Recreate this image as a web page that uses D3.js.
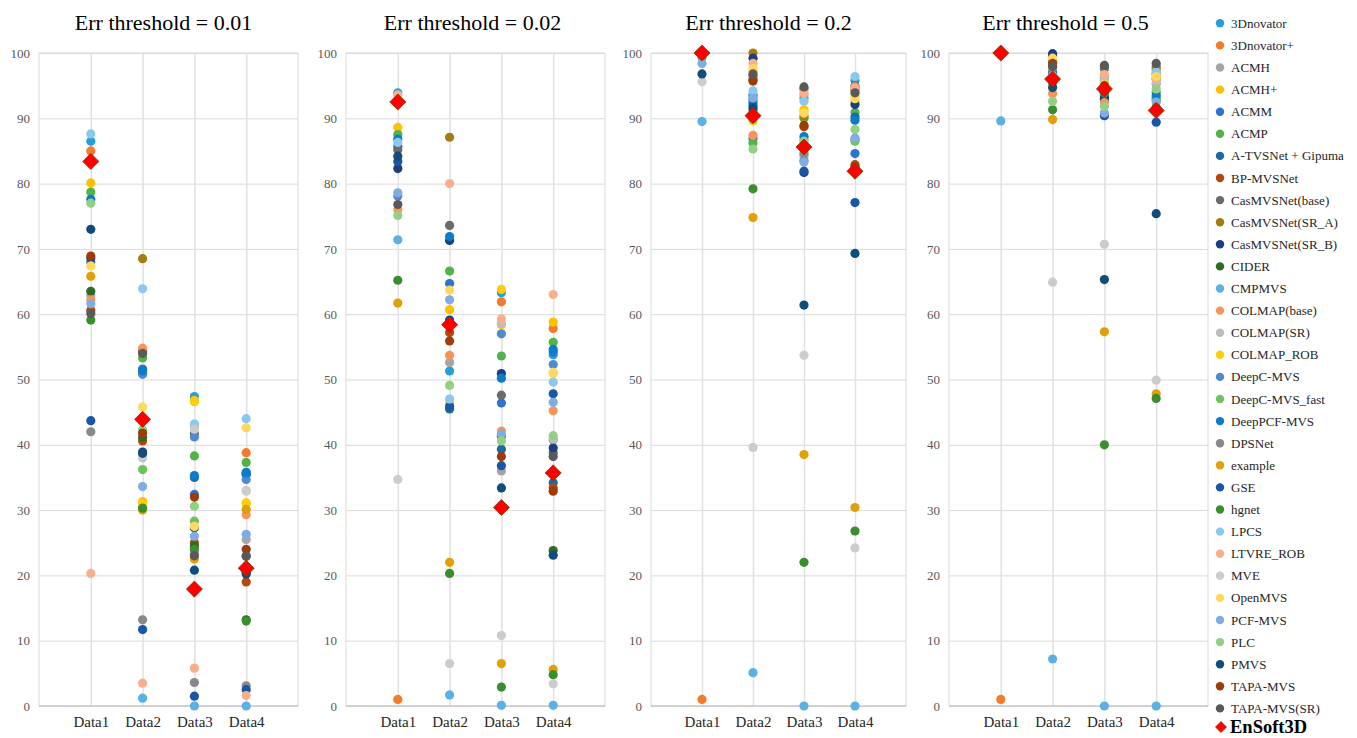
<!DOCTYPE html>
<html>
<head>
<meta charset="utf-8">
<script src="https://cdn.jsdelivr.net/npm/d3@7"></script>
<style>
  body { margin: 0; background: #fff; }
  svg { display: block; }
</style>
</head>
<body>
<svg id="chart" width="1357" height="738"></svg>
<script>
// ---- data ----------------------------------------------------------------
const categories = ["Data1", "Data2", "Data3", "Data4"];
const thresholds = ["0.01", "0.02", "0.2", "0.5"];
const yTicks = [0, 10, 20, 30, 40, 50, 60, 70, 80, 90, 100];

const methods = [
  "3Dnovator", "3Dnovator+", "ACMH", "ACMH+", "ACMM", "ACMP",
  "A-TVSNet + Gipuma", "BP-MVSNet", "CasMVSNet(base)", "CasMVSNet(SR_A)",
  "CasMVSNet(SR_B)", "CIDER", "CMPMVS", "COLMAP(base)", "COLMAP(SR)",
  "COLMAP_ROB", "DeepC-MVS", "DeepC-MVS_fast", "DeepPCF-MVS", "DPSNet",
  "example", "GSE", "hgnet", "LPCS", "LTVRE_ROB", "MVE", "OpenMVS",
  "PCF-MVS", "PLC", "PMVS", "TAPA-MVS", "TAPA-MVS(SR)"
];

const methodColors = [
  "#22a0da", "#f47a2c", "#a5a5a5", "#ffc000", "#2e73cf", "#52b34a",
  "#1f69a3", "#b4490e", "#6b6b6b", "#a57c10",
  "#1c3f80", "#2f6b23", "#5cb1e4", "#f5955a", "#bdbdbd",
  "#ffcc0a", "#5089d3", "#6ec35c", "#0b7cc9", "#898989",
  "#e1a008", "#1957a6", "#3b8e2e", "#8bc8ee", "#f8b08c", "#cccccc", "#ffd85e",
  "#7fade2", "#93d085", "#114d7b", "#9f3b0a", "#595959"
];

// one row per method (legend order), columns Data1..Data4
const err001 = [
  [86.5, 51.5, 47.4, 35.4], [85.0, 54.6, null, 38.8], [62.9, 30.6, 23.4, 25.5],
  [80.1, 31.3, 46.8, 31.1], [68.0, 51.6, 32.4, 35.8], [78.7, 53.3, 38.3, 37.3],
  [null, 51.0, 35.0, 35.5], [60.6, 40.6, 25.0, 19.0], [null, 54.3, 41.7, 22.9],
  [null, 68.5, null, null], [68.6, 38.9, 27.3, 20.4], [63.5, 41.1, 24.5, 13.2],
  [null, 1.2, 0, 0], [62.2, 54.8, null, 29.3], [null, 38.0, 42.8, 33.0],
  [null, 31.0, 46.6, 31.0], [null, 50.8, 41.2, 34.7], [null, 36.2, 28.3, null],
  [77.6, 51.3, 35.3, 35.7], [42.0, 13.2, 3.6, 3.1], [65.8, 30.0, 22.5, 30.1],
  [43.7, 11.7, 1.5, 2.5], [59.1, 30.3, 24.0, 13.0], [87.6, 63.9, 43.2, 44.0],
  [20.3, 3.5, 5.8, 1.6], [null, 38.3, 42.4, 32.9], [67.4, 45.8, 27.5, 42.6],
  [61.6, 33.6, 26.0, 26.3], [77.0, 42.3, 30.6, null], [73.0, 38.7, 20.8, 20.2],
  [68.9, 41.8, 32.0, 24.0], [60.1, 54.0, 23.0, 23.0]
];

const err002 = [
  [93.9, 51.3, 63.3, 53.8], [1.0, null, 61.9, 57.8], [null, 52.6, 36.0, 40.7],
  [88.6, 60.7, 58.4, 58.8], [null, 64.7, 46.4, 54.2], [87.5, 66.6, 53.6, 55.7],
  [85.7, 45.5, 39.3, 34.2], [null, 57.2, 41.3, 33.4], [85.2, 73.6, 47.6, 38.8],
  [null, 87.1, null, null], [82.3, 71.3, 50.9, 39.5], [null, null, null, 23.8],
  [71.4, 1.7, 0.1, 0.1], [76.0, 53.7, 42.1, 45.2], [null, null, 58.6, 40.9],
  [null, 46.5, 63.8, 51.0], [78.1, null, 57.0, 52.3], [null, null, null, null],
  [86.8, 71.9, 50.2, 54.6], [null, null, null, null], [61.7, 22.0, 6.5, 5.6],
  [83.4, 45.9, 36.8, 47.8], [65.2, 20.3, 2.9, 4.8], [86.3, 47.0, null, 49.6],
  [93.6, 80.0, 59.3, 63.0], [34.7, 6.5, 10.8, 3.4], [null, 63.7, null, 51.1],
  [78.6, 62.2, 41.6, 46.5], [75.1, 49.1, 40.6, 41.4], [84.2, 59.1, 33.4, 23.1],
  [null, 55.9, 38.2, 32.9], [76.8, null, null, 38.2]
];

const err02 = [
  [100, 93.6, 93.1, 95.8], [1.0, 90.5, 85.2, 82.0], [100, 91.0, 84.4, 94.2],
  [100, 97.2, 91.3, 92.5], [100, 86.9, 86.0, 84.6], [99.3, 86.2, 90.0, 90.9],
  [100, 92.8, 85.4, 90.2], [100, 95.9, 88.7, 82.9], [100, 96.5, 94.5, 95.0],
  [100, 100, 90.3, 94.5], [100, 99.2, 81.7, 92.1], [100, 90.2, 85.8, 82.2],
  [89.5, 5.1, 0, 0], [100, 87.4, 93.7, 94.8], [100, 91.2, 84.1, 94.0],
  [100, 89.6, 91.0, 93.4], [100, 93.4, 83.5, 86.8], [100, 89.9, 86.8, 86.5],
  [100, 92.4, 87.2, 89.7], [100, 96.0, 84.6, 82.1], [100, 74.8, 38.5, 30.4],
  [100, 91.9, 81.9, 77.1], [100, 79.2, 22.0, 26.8], [100, 94.2, 92.6, 96.4],
  [100, 98.4, 93.9, 94.6], [95.6, 39.6, 53.7, 24.2], [100, 97.6, 90.8, 93.0],
  [98.4, 93.1, 83.3, 87.0], [100, 85.3, 86.5, 88.3], [96.8, 91.5, 61.4, 69.3],
  [100, 95.7, 88.9, 82.6], [100, 96.8, 94.8, 93.9]
];

const err05 = [
  [100, 96.4, 94.8, 96.8], [1.0, 96.2, 94.3, 91.0], [100, 96.6, 97.9, 95.2],
  [100, 97.2, 94.6, 96.6], [100, 97.6, 93.5, 92.8], [100, 95.6, 93.8, 94.0],
  [100, 95.8, 92.9, 91.5], [100, 98.0, 95.4, 91.4], [100, 98.7, 97.6, 97.9],
  [100, 99.6, 96.2, 97.5], [100, 99.9, 93.1, 96.0], [100, 96.0, 94.0, 91.0],
  [89.6, 7.2, 0, 0], [100, 93.8, 92.4, 96.9], [100, 96.3, 95.0, 95.5],
  [100, 97.4, 95.8, 96.2], [100, 96.8, 94.2, 93.2], [100, 95.4, 93.9, 92.9],
  [100, 97.0, 94.0, 93.5], [100, 96.1, 95.1, 91.3], [100, 89.8, 57.3, 47.8],
  [100, 95.7, 90.4, 89.4], [100, 91.3, 40.0, 47.1], [100, 96.5, 96.0, 97.1],
  [100, 97.8, 96.7, 96.0], [100, 64.9, 70.7, 49.9], [100, 99.2, 95.2, 96.4],
  [100, 96.2, 90.8, 92.5], [100, 92.6, 91.8, 94.5], [100, 94.7, 65.3, 75.4],
  [100, 98.4, 95.0, 91.6], [100, 97.9, 98.1, 98.4]
];

// EnSoft3D, one row per threshold
const ensoft3d = [
  [83.4, 43.9, 17.9, 21.1],
  [92.5, 58.4, 30.4, 35.7],
  [100, 90.4, 85.6, 81.9],
  [100, 96.0, 94.5, 91.2]
];
const ensoftLabel = "EnSoft3D";

const panelValues = [err001, err002, err02, err05];

// ---- layout ---------------------------------------------------------------
const svg = d3.select("#chart");
const serif = "'Liberation Serif', 'Times New Roman', serif";
const plotTop = 53, plotBottom = 706;
const panelBounds = [[39, 298], [346, 605], [651, 906], [949, 1208]];
const titleShift = [-5, -3, -10, -13];
const gridColor = "#d9d9d9";

const y = d3.scaleLinear().domain([0, 100]).range([plotBottom, plotTop]);
const diamond = d3.symbol().type(d3.symbolDiamond2);

panelBounds.forEach(([x0, x1], p) => {
  const x = d3.scalePoint().domain(categories).range([x0, x1]).padding(1);
  const g = svg.append("g");

  // horizontal grid + y tick labels
  const yAxis = g.append("g")
    .attr("transform", `translate(${x0},0)`)
    .call(d3.axisLeft(y).tickValues(yTicks).tickSize(-(x1 - x0)).tickPadding(9));
  yAxis.select(".domain").remove();
  yAxis.selectAll(".tick line").attr("stroke", gridColor).attr("stroke-width", 1);
  yAxis.selectAll(".tick text")
    .attr("fill", "#595959").style("font-family", serif).style("font-size", "13px");

  // vertical grid at each category + category labels
  const xAxis = g.append("g")
    .attr("transform", `translate(0,${plotBottom})`)
    .call(d3.axisBottom(x).tickSize(-(plotBottom - plotTop)).tickPadding(10));
  xAxis.select(".domain").remove();
  xAxis.selectAll(".tick line").attr("stroke", "#e1e1e1").attr("stroke-width", 1.5);
  xAxis.selectAll(".tick text")
    .attr("fill", "#262626").style("font-family", serif).style("font-size", "15px");

  // plot frame
  g.append("rect")
    .attr("x", x0).attr("y", plotTop)
    .attr("width", x1 - x0).attr("height", plotBottom - plotTop)
    .attr("fill", "none").attr("stroke", gridColor);
  g.append("line")
    .attr("x1", x0).attr("x2", x1).attr("y1", plotBottom).attr("y2", plotBottom)
    .attr("stroke", "#bfbfbf");

  // title
  g.append("text")
    .attr("x", (x0 + x1) / 2 + titleShift[p]).attr("y", 30)
    .attr("text-anchor", "middle")
    .style("font-family", serif).style("font-size", "22px").attr("fill", "#000")
    .text(`Err threshold = ${thresholds[p]}`);

  // method points
  const rows = panelValues[p];
  rows.forEach((row, m) => {
    const pts = categories.map((c, i) => ({ c, v: row[i] })).filter(d => d.v != null);
    g.append("g").selectAll("circle").data(pts).join("circle")
      .attr("cx", d => x(d.c)).attr("cy", d => y(d.v))
      .attr("r", 4.6).attr("fill", methodColors[m]);
  });

  // EnSoft3D diamonds on top
  g.append("g").selectAll("path")
    .data(categories.map((c, i) => ({ c, v: ensoft3d[p][i] })))
    .join("path")
    .attr("d", diamond.size(165)())
    .attr("transform", d => `translate(${x(d.c)},${y(d.v)})`)
    .attr("fill", "#ff0000").attr("stroke", "#7a3d00").attr("stroke-width", 0.8);
});

// ---- legend -----------------------------------------------------------------
const legendY = d3.scaleLinear().domain([0, 1]).range([23.3, 45.4]);
const legend = svg.append("g");
methods.forEach((name, i) => {
  const yy = legendY(i);
  legend.append("circle").attr("cx", 1220).attr("cy", yy).attr("r", 4.2)
    .attr("fill", methodColors[i]);
  legend.append("text").attr("x", 1231).attr("y", yy).attr("dy", "0.35em")
    .style("font-family", serif).style("font-size", "13px").attr("fill", "#262626")
    .text(name);
});
const ensY = legendY(methods.length) - 3.5;
legend.append("path")
  .attr("d", d3.symbol().type(d3.symbolDiamond2).size(80)())
  .attr("transform", `translate(1221,${ensY})`)
  .attr("fill", "#ff0000").attr("stroke", "#7a3d00").attr("stroke-width", 0.6);
legend.append("text").attr("x", 1230).attr("y", ensY).attr("dy", "0.33em")
  .style("font-family", serif).style("font-size", "18.5px").style("font-weight", "bold")
  .attr("fill", "#000").text(ensoftLabel);
</script>
</body>
</html>
